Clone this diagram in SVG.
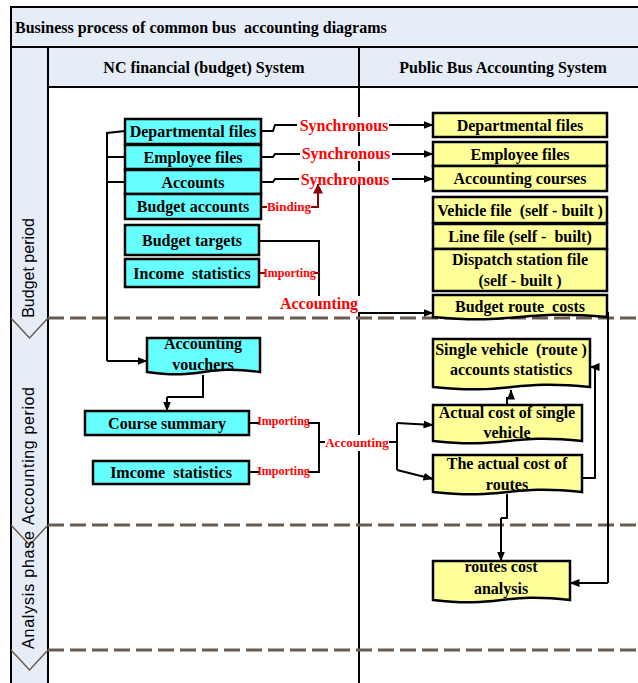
<svg xmlns="http://www.w3.org/2000/svg" width="638" height="683" viewBox="0 0 638 683">
<style>
.bg{fill:#E6EDF7;stroke:none}
.frame{stroke:#000;stroke-width:2;fill:none}
.dash{stroke:#6B5A4E;stroke-width:3;stroke-dasharray:16 6;fill:none}
.chev{stroke:#6B5A4E;stroke-width:1.5;fill:none}
.cy{fill:#66FFFF;stroke:#000;stroke-width:2.5}
.ye{fill:#FFFF99;stroke:#000;stroke-width:2.5}
.t{font-family:"Liberation Serif","Times New Roman",serif;font-weight:bold;font-size:16px;text-anchor:middle;fill:#000;white-space:pre}
.tl{font-family:"Liberation Serif","Times New Roman",serif;font-weight:bold;font-size:16px;fill:#000;white-space:pre}
.lane{font-family:"Liberation Sans",Arial,sans-serif;font-size:16px;text-anchor:middle;fill:#000}
.r{font-family:"Liberation Serif","Times New Roman",serif;font-weight:bold;font-size:16px;text-anchor:middle;fill:#FF0000}
.rs{font-family:"Liberation Serif","Times New Roman",serif;font-weight:bold;font-size:12px;text-anchor:middle;fill:#FF0000}
.rm{font-family:"Liberation Serif","Times New Roman",serif;font-weight:bold;font-size:13px;text-anchor:middle;fill:#FF0000}
.c{stroke:#000;stroke-width:2;fill:none}
.a{stroke:#000;stroke-width:2;fill:none;marker-end:url(#ah)}
.dr{stroke:#8B0000;stroke-width:2;fill:none}
.dra{stroke:#8B0000;stroke-width:2;fill:none;marker-end:url(#ahr)}
.wb{fill:#fff}
</style>
<defs>
<marker id="ah" markerWidth="10" markerHeight="8" refX="9.5" refY="4" orient="auto" markerUnits="userSpaceOnUse"><path d="M0,0 L10,4 L0,8 Z" fill="#000"/></marker>
<marker id="ahr" markerWidth="10" markerHeight="10" refX="9.5" refY="5" orient="auto" markerUnits="userSpaceOnUse"><path d="M0,0 L10,5 L0,10 Z" fill="#8B0000"/></marker>
</defs>
<rect width="638" height="683" fill="#fff"/>
<g id="swimlanes">
<rect class="bg" x="11" y="7" width="627" height="40"/>
<rect class="bg" x="48" y="47" width="590" height="40"/>
<rect class="bg" x="11" y="47" width="37" height="636"/>
<path class="frame" d="M11,683 V7 H638 M11,47 H638 M48,87 H638 M48,47 V683 M359,47 V683"/>
<text class="tl" x="15" y="33">Business process of common bus  accounting diagrams</text>
<text class="t" x="204" y="73">NC financial (budget) System</text>
<text class="t" x="503" y="73">Public Bus Accounting System</text>
<path class="dash" d="M48,318 H638 M48,525 H638 M48,650 H638"/>
<path class="chev" d="M11,318 L29.5,338 L48,318 M11,525 L29.5,545 L48,525 M11,650 L29.5,670 L48,650"/>
<text class="lane" transform="translate(34,268) rotate(-90)">Budget period</text>
<text class="lane" transform="translate(34,456) rotate(-90)" textLength="138" lengthAdjust="spacing">Accounting period</text>
<text class="lane" transform="translate(34,590) rotate(-90)" textLength="118" lengthAdjust="spacing">Analysis phase</text>
</g>
<g id="connectors">
<path class="c" d="M125,131 L107,133 V361"/>
<path class="a" d="M107,361 H147"/>
<path class="c" d="M107,157 H125 M107,182 H125"/>
<path class="c" d="M261,131 H273 L275,125 H297"/>
<path class="a" d="M388,125 H433"/>
<path class="c" d="M261,157 H273 L275,154 H300"/>
<path class="a" d="M391,154 H433"/>
<path class="c" d="M261,182 H273 L275,179 H299"/>
<path class="a" d="M392,179 H433"/>
<rect class="wb" x="298" y="117" width="91" height="15"/>
<rect class="wb" x="300" y="146" width="92" height="15"/>
<rect class="wb" x="299" y="171" width="93" height="13"/>
<text class="r" x="344" y="131">Synchronous</text>
<text class="r" x="346" y="159">Synchronous</text>
<text class="r" x="345" y="185">Synchronous</text>
<path class="dr" d="M261,207 H267"/>
<path class="dra" d="M311,207 H318 V184"/>
<text class="rm" x="289" y="211">Binding</text>
<path class="c" d="M259,241 H319 V296"/>
<path class="dr" d="M259,273 H265 M314,273 H319"/>
<text class="rs" x="289.5" y="277">Importing</text>
<rect class="wb" x="279" y="296" width="82" height="16"/>
<text class="r" x="319" y="309">Accounting</text>
<path class="a" d="M359,313 H433"/>
<path class="c" d="M203,375 V397 H167"/>
<path class="a" d="M167,397 V411"/>
<path class="c" d="M249,423 H259 M308,423 H319 V472 H308 M249,472 H259 M319,442 H325"/>
<text class="rs" x="283.5" y="425">Importing</text>
<text class="rs" x="283.5" y="475">Importing</text>
<rect class="wb" x="325" y="435" width="64" height="16"/>
<text class="rm" x="357" y="447">Accounting</text>
<path class="c" d="M389,442 H397 M397,423 V470"/>
<path class="a" d="M397,423 L433,425"/>
<path class="a" d="M397,470 L433,479"/>
<path class="c" d="M507,405 V398 H511"/>
<path class="a" d="M511,398 V390"/>
<path class="c" d="M582,478 H595 V367"/>
<path class="a" d="M595,367 H590"/>
<path class="c" d="M507,494 V518 H501"/>
<path class="a" d="M501,518 V561"/>
<path class="c" d="M608,312 V583"/>
<path class="a" d="M608,583 H570"/>
</g>
<g id="n-dept-nc"><rect class="cy" x="125" y="119" width="136" height="25"/><text class="t" x="193" y="137">Departmental files</text></g>
<g id="n-emp-nc"><rect class="cy" x="125" y="145" width="136" height="24"/><text class="t" x="193" y="162.5">Employee files</text></g>
<g id="n-accounts"><rect class="cy" x="125" y="170" width="136" height="24"/><text class="t" x="193" y="187.5">Accounts</text></g>
<g id="n-budget-accounts"><rect class="cy" x="125" y="194" width="136" height="25"/><text class="t" x="193" y="212">Budget accounts</text></g>
<g id="n-budget-targets"><rect class="cy" x="125" y="225" width="134" height="30"/><text class="t" x="192" y="245.5">Budget targets</text></g>
<g id="n-income-nc"><rect class="cy" x="125" y="259" width="134" height="28"/><text class="t" x="192" y="278.5">Income  statistics</text></g>
<g id="n-vouchers"><path class="cy" d="M147,338 H260 V372 C203.5,364 203.5,380 147,372 Z"/><text class="t" x="203" y="349">Accounting</text><text class="t" x="203" y="370">vouchers</text></g>
<g id="n-course-summary"><rect class="cy" x="85" y="411" width="164" height="24"/><text class="t" x="167" y="428.5">Course summary</text></g>
<g id="n-income-acc"><rect class="cy" x="93" y="461" width="156" height="23"/><text class="t" x="171" y="478">Imcome  statistics</text></g>
<g id="n-dept-bus"><rect class="ye" x="433" y="113" width="174" height="24"/><text class="t" x="520" y="130.5">Departmental files</text></g>
<g id="n-emp-bus"><rect class="ye" x="433" y="142" width="174" height="24"/><text class="t" x="520" y="159.5">Employee files</text></g>
<g id="n-acc-courses"><rect class="ye" x="433" y="166" width="174" height="25"/><text class="t" x="520" y="184">Accounting courses</text></g>
<g id="n-vehicle-file"><rect class="ye" x="433" y="197" width="174" height="26"/><text class="t" x="520" y="215.5">Vehicle file  (self - built )</text></g>
<g id="n-line-file"><rect class="ye" x="433" y="224" width="174" height="25"/><text class="t" x="520" y="242">Line file (self -  built)</text></g>
<g id="n-dispatch-file"><rect class="ye" x="433" y="249" width="174" height="42"/><text class="t" x="520" y="265">Dispatch station file</text><text class="t" x="520" y="286">(self - built )</text></g>
<g id="n-budget-route"><path class="ye" d="M433,295 H607 V317 C520,309 520,325 433,317 Z"/><text class="t" x="520" y="312">Budget route  costs</text></g>
<g id="n-single-stats"><path class="ye" d="M433,339 H590 V387 C511.5,379 511.5,395 433,387 Z"/><text class="t" x="511" y="355">Single vehicle  (route )</text><text class="t" x="511" y="375">accounts statistics</text></g>
<g id="n-actual-single"><path class="ye" d="M433,405 H582 V441 C507.5,433 507.5,449 433,441 Z"/><text class="t" x="507" y="418">Actual cost of single</text><text class="t" x="507" y="438">vehicle</text></g>
<g id="n-actual-routes"><path class="ye" d="M433,455 H582 V492 C507.5,484 507.5,500 433,492 Z"/><text class="t" x="507" y="469">The actual cost of</text><text class="t" x="507" y="490">routes</text></g>
<g id="n-route-analysis"><path class="ye" d="M433,561 H570 V600 C501.5,592 501.5,608 433,600 Z"/><text class="t" x="501" y="572">routes cost</text><text class="t" x="501" y="594">analysis</text></g>
</svg>
